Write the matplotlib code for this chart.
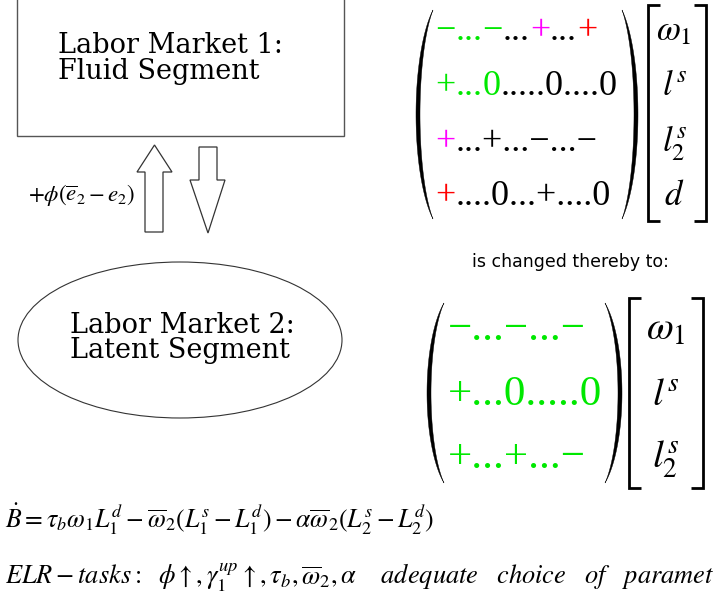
import matplotlib
matplotlib.use("Agg")
import matplotlib.pyplot as plt
import numpy as np
from matplotlib.patches import Rectangle, Ellipse, Polygon

plt.rcParams["mathtext.fontset"] = "stix"

# diagram content
box_labels = ["Labor Market 1:", "Fluid Segment"]
ellipse_labels = ["Labor Market 2:", "Latent Segment"]
flow_label = r"$+\phi(\overline{e}_2-e_2)$"
changed_label = "is changed thereby to:"

m1_pieces = [
    ["\u2212", "...", "\u2212", "...", "+", "...", "+"],
    ["+", "...", "0", ".....0....0"],
    ["+", "...+...\u2212...\u2212"],
    ["+", "....0...+....0"],
]
m1_colors = [
    ["g", "g", "g", "k", "m", "k", "r"],
    ["g", "g", "g", "k"],
    ["m", "k"],
    ["r", "k"],
]
m2_pieces = [
    ["\u2212...\u2212...\u2212"],
    ["+...0.....0"],
    ["+...+...\u2212"],
]
m2_colors = [["g"], ["g"], ["g"]]

vec1 = [r"$\omega_1$", r"$l^s$", r"$l_2^s$", r"$d$"]
vec2 = [r"$\omega_1$", r"$l^s$", r"$l_2^s$"]

budget_eq = (r"$\dot{B}=\tau_b\omega_1 L_1^d-\overline{\omega}_2(L_1^s-L_1^d)"
             r"-\alpha\overline{\omega}_2(L_2^s-L_2^d)$")
tasks_eq = (r"$ELR-tasks:\ \ \phi\uparrow,\gamma_1^{up}\uparrow,\tau_b,"
            r"\overline{\omega}_2,\alpha\ \ \ \ adequate\ \ \ choice\ \ \ of\ \ \ parameters$")

palette = {"g": "#00e800", "k": "black", "m": "#ff00ff", "r": "#ff0000"}


def paren(ax, x_out, x_end, top, bottom, thick=4.0):
    mid = (top + bottom) / 2
    half = (bottom - top) / 2
    phi0 = np.radians(62)
    phi = np.linspace(-phi0, phi0, 80)
    d = x_end - x_out
    a = d / (1 - np.cos(phi0))
    b = half / np.sin(phi0)
    xo = x_out + a * (1 - np.cos(phi))
    yo = mid + b * np.sin(phi)
    a2 = (d - np.sign(d) * thick) / (1 - np.cos(phi0))
    xi = x_out + np.sign(d) * thick + a2 * (1 - np.cos(phi))
    pts = np.vstack([np.column_stack([xo, yo]), np.column_stack([xi, yo])[::-1]])
    ax.add_patch(Polygon(pts, closed=True, facecolor="black", edgecolor="black", lw=0.3))


def bracket(ax, x, top, bottom, tick):
    ax.plot([x + tick, x, x, x + tick], [top, top, bottom, bottom],
            color="black", lw=2.0, solid_joinstyle="miter", solid_capstyle="butt")


def matrix_rows(ax, pieces, colors, x, baselines, size):
    for parts, cols, y in zip(pieces, colors, baselines):
        prev = ax.text(x, y, parts[0], color=palette[cols[0]], fontsize=size,
                       family="Liberation Serif", va="baseline", ha="left")
        for s, c in zip(parts[1:], cols[1:]):
            prev = ax.annotate(s, xy=(1, 0), xycoords=prev, color=palette[c],
                               fontsize=size, family="Liberation Serif",
                               va="bottom", ha="left")


fig = plt.figure(figsize=(7.13, 5.98), dpi=100)
ax = fig.add_axes([0, 0, 1, 1])
ax.set_xlim(0, 713)
ax.set_ylim(598, 0)
ax.axis("off")

# labor market 1 box
ax.add_patch(Rectangle((17, -5), 327, 141, fill=False, edgecolor="#555555", lw=1.0))
ax.text(58, 53, box_labels[0], fontsize=19.5, family="DejaVu Serif", va="baseline")
ax.text(58, 79, box_labels[1], fontsize=19.5, family="DejaVu Serif", va="baseline")

# arrows between segments
up = [(145, 232), (145, 172), (137, 172), (154.5, 145), (172, 172), (163, 172), (163, 232)]
down = [(199, 147), (217, 147), (217, 180), (225, 180), (208, 233), (190, 180), (199, 180)]
for pts in (up, down):
    ax.add_patch(Polygon(pts, closed=True, fill=False, edgecolor="#333333", lw=0.9))
ax.text(28, 201, flow_label, fontsize=16.5, va="baseline")

# labor market 2 ellipse
ax.add_patch(Ellipse((180, 340), 324, 156, fill=False, edgecolor="#333333", lw=0.8))
ax.text(70, 333, ellipse_labels[0], fontsize=19.5, family="DejaVu Serif", va="baseline")
ax.text(70, 358, ellipse_labels[1], fontsize=19.5, family="DejaVu Serif", va="baseline")

# first matrix
paren(ax, 416, 433, 10, 219)
paren(ax, 638, 622, 10, 219)
matrix_rows(ax, m1_pieces, m1_colors, 435, [40, 95, 151, 205], 26)
bracket(ax, 648, 5, 221, 12)
bracket(ax, 706, 5, 221, -12)
for s, y in zip(vec1, [40, 95, 151, 205]):
    ax.text(674, y, s, fontsize=25, ha="center", va="baseline")

ax.text(570, 262, changed_label, fontsize=12.5, family="DejaVu Sans",
        ha="center", va="center")

# second matrix
paren(ax, 427, 444, 303, 483)
paren(ax, 622, 605, 303, 483)
matrix_rows(ax, m2_pieces, m2_colors, 448, [340, 405, 468], 31)
bracket(ax, 629, 298, 488, 12)
bracket(ax, 703, 298, 488, -12)
for s, y in zip(vec2, [340, 405, 468]):
    ax.text(666, y, s, fontsize=28, ha="center", va="baseline")

# equations (the second runs past the right edge, as in the source)
ax.text(5, 528, budget_eq, fontsize=18.5, va="baseline")
ax.text(5, 585, tasks_eq, fontsize=19, va="baseline")

fig.savefig("out.png", dpi=100)
